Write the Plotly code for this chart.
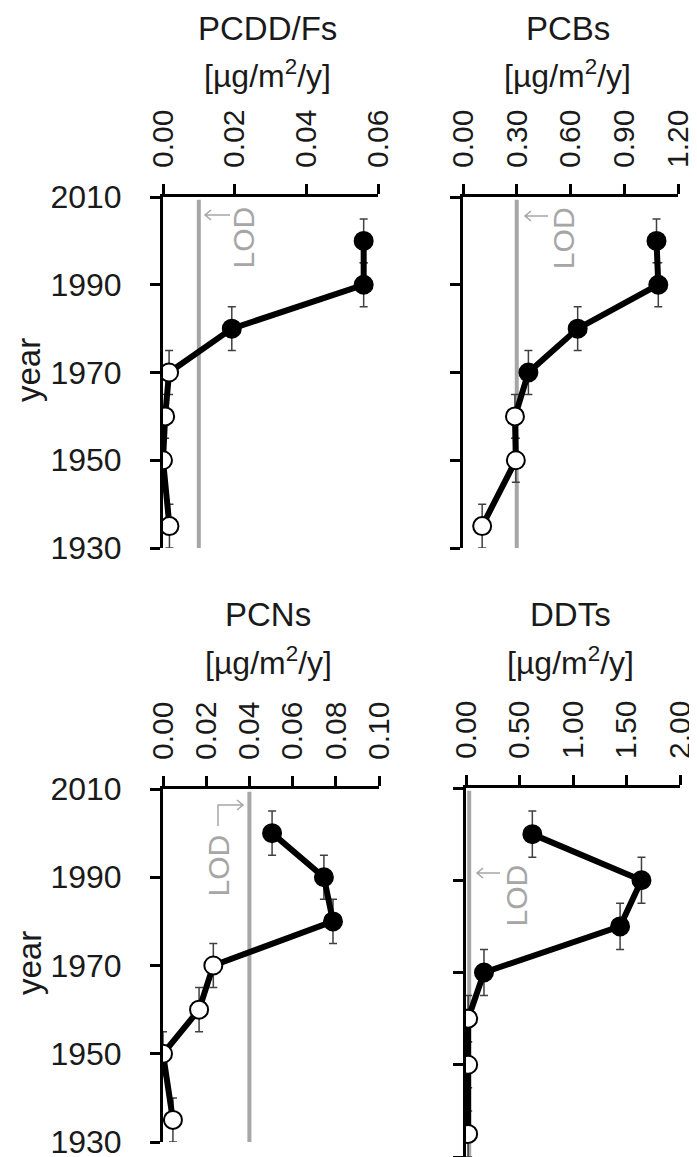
import plotly.graph_objects as go

# sampling years (same for every panel)
years = [2000, 1990, 1980, 1970, 1960, 1950, 1935]
year_err = [5, 5, 5, 5, 5, 5, 5]

# fluxes in ug/m2/y
pcdd = [0.056, 0.056, 0.0192, 0.0017, 0.0006, 0.0, 0.0018]
pcb = [1.08, 1.09, 0.64, 0.365, 0.29, 0.295, 0.107]
pcn = [0.0505, 0.0745, 0.0787, 0.0233, 0.0167, 0.0, 0.0046]
ddt = [0.62, 1.64, 1.44, 0.168, 0.02, 0.02, 0.02]

# above LOD (filled) or not (open)
pcdd_det = [True, True, True, False, False, False, False]
pcb_det = [True, True, True, True, False, False, False]
pcn_det = [True, True, True, False, False, False, False]
ddt_det = [True, True, True, True, False, False, False]

# limits of detection
lod = {'PCDD/Fs': 0.01, 'PCBs': 0.30, 'PCNs': 0.04, 'DDTs': 0.03}

# tick labels
pcdd_ticks = [0.00, 0.02, 0.04, 0.06]
pcb_ticks = [0.00, 0.30, 0.60, 0.90, 1.20]
pcn_ticks = [0.00, 0.02, 0.04, 0.06, 0.08, 0.10]
ddt_ticks = [0.00, 0.50, 1.00, 1.50, 2.00]
year_ticks = [1930, 1950, 1970, 1990, 2010]

# page body has an 8px margin, so the figure is shrunk by that much
OFF = 8
W, H = 697 - OFF, 1157 - OFF
FONT = 'Liberation Sans, Arial, sans-serif'
TXT = '#1a1a1a'
GREY = '#a6a6a6'


def px_x(p):
    return (p - OFF) / W


def px_y(p):
    return 1 - (p - OFF) / H


panels = [
    # name, values, detected, ticks, x pixel span, y pixel span
    ('PCDD/Fs', pcdd, pcdd_det, pcdd_ticks, (163, 378), (197, 548)),
    ('PCBs', pcb, pcb_det, pcb_ticks, (463, 678), (197, 548)),
    ('PCNs', pcn, pcn_det, pcn_ticks, (163, 379), (789, 1142)),
    ('DDTs', ddt, ddt_det, ddt_ticks, (466, 680), (788, 1157)),
]

fig = go.Figure()
layout = {}

for i, (name, vals, det, ticks, xs, ys) in enumerate(panels):
    n = '' if i == 0 else str(i + 1)
    xa, ya = 'x' + n, 'y' + n

    # LOD line
    fig.add_trace(go.Scatter(
        x=[lod[name], lod[name]], y=[year_ticks[0], year_ticks[-1] - 0.6],
        mode='lines', line=dict(color=GREY, width=4),
        xaxis=xa, yaxis=ya, showlegend=False, hoverinfo='skip'))

    # data line + markers
    fig.add_trace(go.Scatter(
        x=vals, y=years, mode='lines+markers',
        line=dict(color='black', width=6),
        marker=dict(size=18, color=['black' if d else 'white' for d in det],
                    line=dict(color='black', width=2)),
        error_y=dict(type='data', array=year_err, color='#404040',
                     thickness=1.5, width=4),
        xaxis=xa, yaxis=ya, showlegend=False))

    layout['xaxis' + n] = dict(
        domain=[px_x(xs[0]), px_x(xs[1])], anchor=ya, side='top',
        range=[0, ticks[-1]], tickvals=ticks,
        ticktext=[f'{t:.2f}' for t in ticks], tickangle=-90,
        showline=True, linewidth=3, linecolor='black',
        ticks='outside', ticklen=10, tickwidth=3, tickcolor='black',
        ticklabelstandoff=10, automargin=False,
        showgrid=False, zeroline=False,
        tickfont=dict(size=30, color=TXT, family=FONT))
    layout['yaxis' + n] = dict(
        domain=[max(0, px_y(ys[1])), px_y(ys[0])], anchor=xa,
        range=[year_ticks[0], year_ticks[-1]], tickvals=year_ticks,
        showticklabels=(i % 2 == 0),
        showline=True, linewidth=3, linecolor='black',
        ticks='outside', ticklen=10, tickwidth=3, tickcolor='black',
        ticklabelstandoff=22, automargin=False, ticklabeloverflow='allow',
        showgrid=False, zeroline=False,
        tickfont=dict(size=32, color=TXT, family=FONT))

fig.update_layout(
    width=W, height=H,
    margin=dict(l=0, r=0, t=0, b=0),
    plot_bgcolor='white', paper_bgcolor='white',
    font=dict(family=FONT, color=TXT),
    **layout)

# panel titles
for name, xs, y1, y2 in [('PCDD/Fs', (163, 378), 28, 74),
                         ('PCBs', (463, 678), 28, 74),
                         ('PCNs', (163, 379), 614, 661),
                         ('DDTs', (466, 680), 614, 661)]:
    cx = px_x((xs[0] + xs[1]) / 2 - 3)
    fig.add_annotation(x=cx, y=px_y(y1), xref='paper', yref='paper',
                       text=name, showarrow=False,
                       xanchor='center', yanchor='middle',
                       font=dict(size=33, color=TXT))
    fig.add_annotation(x=cx, y=px_y(y2), xref='paper', yref='paper',
                       text='[µg/m<sup>2</sup>/y]', showarrow=False,
                       xanchor='center', yanchor='middle',
                       font=dict(size=32, color=TXT))

# y axis titles
for yc in (370, 963):
    fig.add_annotation(x=px_x(29), y=px_y(yc), xref='paper', yref='paper',
                       text='year', textangle=-90, showarrow=False,
                       xanchor='center', yanchor='middle',
                       font=dict(size=33, color=TXT))

# LOD labels
for xa, ya, tx, ty in [('x', 'y', 0.0225, 2000.7),
                       ('x2', 'y2', 0.56, 2000.7),
                       ('x3', 'y3', 0.0255, 1992.7),
                       ('x4', 'y4', 0.467, 1986.7)]:
    fig.add_annotation(x=tx, y=ty, xref=xa, yref=ya, text='LOD',
                       textangle=-90, showarrow=False,
                       xanchor='center', yanchor='middle',
                       font=dict(size=30, color=GREY))


# small open-headed arrows pointing to the LOD lines (pixel positions)
def arrow_path(pts, direction):
    tx, ty = pts[-1]
    d = 6 if direction == 'left' else -6
    p = 'M ' + ' L '.join(f'{px_x(x)},{px_y(y)}' for x, y in pts)
    p += f' M {px_x(tx + d)},{px_y(ty - 5)} L {px_x(tx)},{px_y(ty)}'
    p += f' L {px_x(tx + d)},{px_y(ty + 5)}'
    return p


for pts, direction in [([(230, 215), (205, 215)], 'left'),
                       ([(548, 216), (525, 216)], 'left'),
                       ([(500, 873), (477, 873)], 'left'),
                       ([(218, 826), (218, 805), (243, 805)], 'right')]:
    fig.add_shape(type='path', xref='paper', yref='paper',
                  path=arrow_path(pts, direction),
                  line=dict(color=GREY, width=1.5))

fig.write_html('out.html')
